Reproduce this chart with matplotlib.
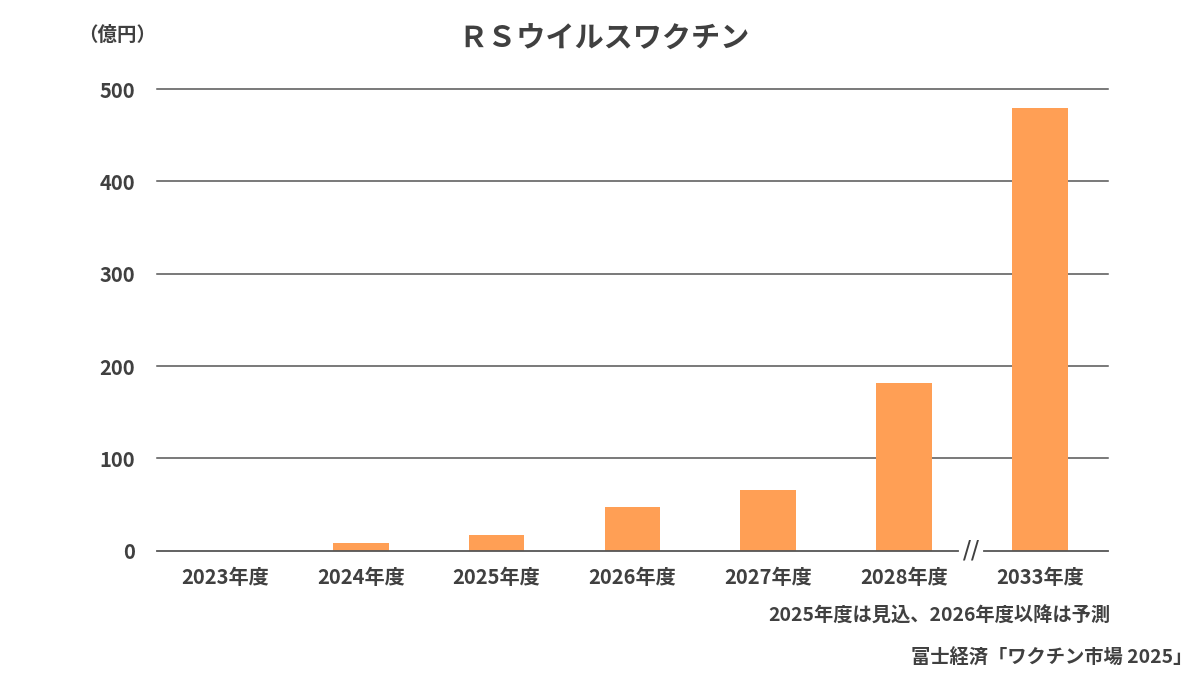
import numpy as np
import matplotlib
matplotlib.use("Agg")
import matplotlib.pyplot as plt

plt.rcParams['font.family'] = ['Noto Sans CJK JP', 'DejaVu Sans']

# data (億円)
years = ["2023年度", "2024年度", "2025年度", "2026年度", "2027年度", "2028年度", "2033年度"]
sales = [0, 8, 17, 47, 66, 182, 480]
yticks = [0, 100, 200, 300, 400, 500]

txt = "#404040"
bar_col = "#FF9F55"

fig = plt.figure(figsize=(12, 6.75), dpi=100)
ax = fig.add_axes([0.131, 0.184, 0.792, 0.684])

x = np.arange(len(years))
ax.bar(x, sales, width=0.41, color=bar_col, zorder=3)

ax.set_xlim(-0.5, len(years) - 0.5)
ax.set_ylim(0, 500)

# gridlines
for v in yticks[1:]:
    ax.axhline(v, color="#555555", lw=1.1, zorder=1, clip_on=False)

# baseline with a break between 2028 and 2033
ax.plot([-0.5, 5.40], [0, 0], color="#555555", lw=1.3, zorder=4, clip_on=False)
ax.plot([5.59, 6.5], [0, 0], color="#555555", lw=1.3, zorder=4, clip_on=False)
ax.text(5.495, 0, "//", ha="center", va="center", fontsize=17, color=txt,
        family=['DejaVu Sans'], zorder=5)

for s in ax.spines.values():
    s.set_visible(False)

ax.set_yticks(yticks)
ax.set_yticklabels([str(v) for v in yticks], fontsize=14.5, fontweight="bold", color=txt)
ax.set_xticks(x)
ax.set_xticklabels(years, fontsize=14.5, fontweight="bold", color=txt)
ax.tick_params(axis="both", length=0)
ax.tick_params(axis="y", pad=16)
ax.tick_params(axis="x", pad=12)

fig.text(0.503, 0.942, "ＲＳウイルスワクチン", ha="center", va="center",
         fontsize=21, fontweight="bold", color=txt)
fig.text(0.098, 0.947, "（億円）", ha="center", va="center",
         fontsize=14, fontweight="bold", color=txt)
fig.text(0.925, 0.087, "2025年度は見込、2026年度以降は予測", ha="right", va="center",
         fontsize=13.9, fontweight="bold", color=txt)
fig.text(0.994, 0.025, "富士経済「ワクチン市場 2025」", ha="right", va="center",
         fontsize=13.9, fontweight="bold", color=txt)

fig.savefig("out.png", dpi=100, facecolor="white")
